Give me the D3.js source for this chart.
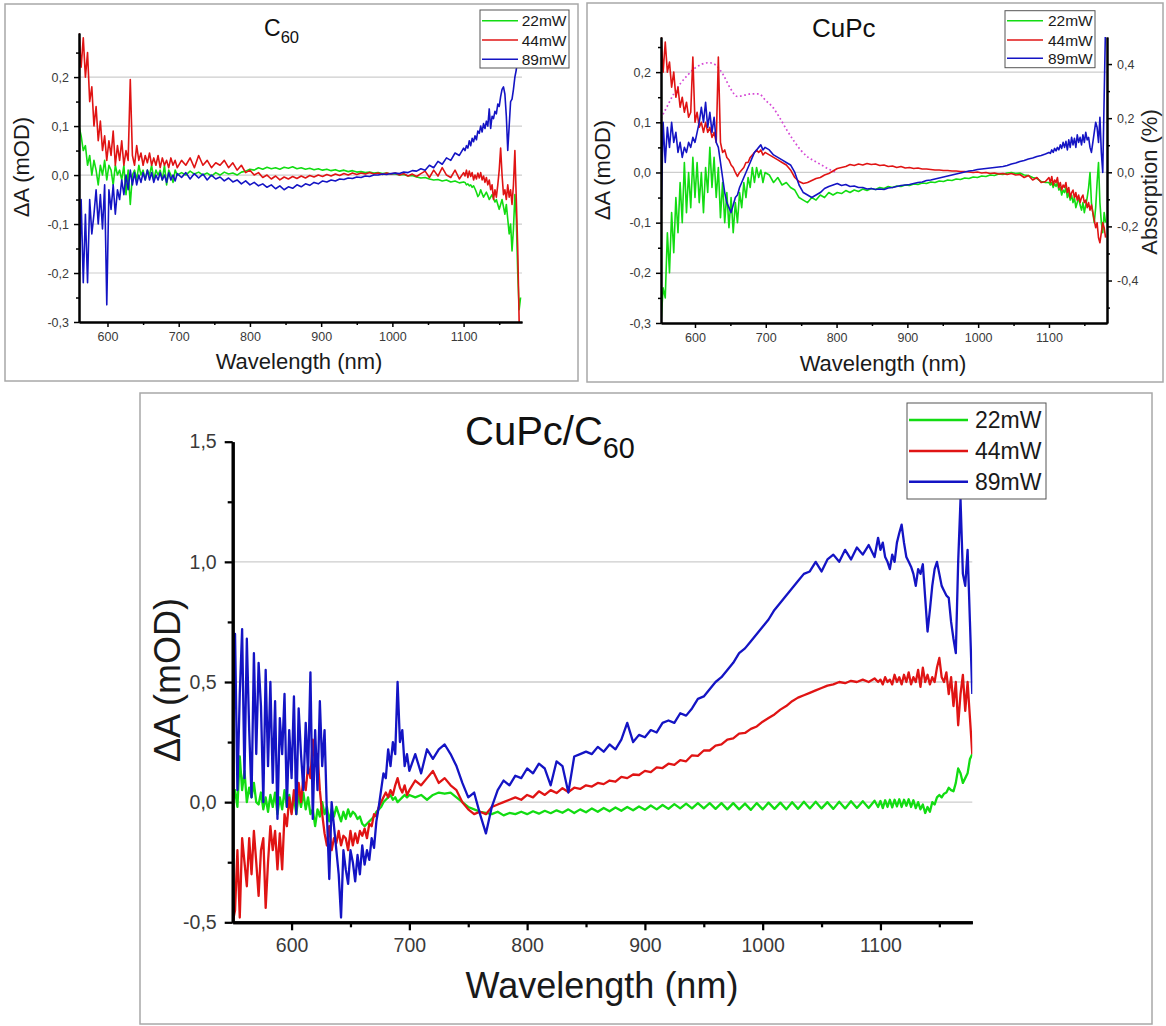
<!DOCTYPE html>
<html>
<head>
<meta charset="utf-8">
<script src="https://cdn.jsdelivr.net/npm/d3@7"></script>
<style>
  body { margin: 0; background: #fff; }
  svg { display: block; }
  text { font-family: "Liberation Sans", Arial, Helvetica, sans-serif; }
</style>
</head>
<body>
<svg id="fig" width="1166" height="1026"></svg>
<script>
// ---------- wavelength grids (nm) ----------
const wlC60  = [...d3.range(560, 700, 3), ...d3.range(704, 1100, 6), ...d3.range(1100, 1181, 2)];
const wlCuPc = [...d3.range(552, 700, 3), ...d3.range(705, 1100, 6), ...d3.range(1100, 1181, 2)];
const wlBlend = [...d3.range(550, 701, 2), ...d3.range(705, 1096, 5), ...d3.range(1098, 1179, 2)];

// ---------- C60 film, ΔA (mOD) ----------
const c60_22mW = [
  0.1, 0.08, 0.05, 0.06, 0.02, 0.04, 0.0, 0.03, 0.01, -0.02,
  0.02, 0.0, 0.03, -0.01, 0.02, 0.01, -0.02, 0.02, 0.0, 0.01,
  -0.01, 0.02, -0.04, 0.01, -0.06, 0.0, 0.01, -0.01, 0.02, 0.0,
  0.01, -0.01, 0.01, 0.0, 0.02, -0.01, 0.01, 0.0, 0.01, -0.01,
  0.02, -0.02, 0.01, 0.0, -0.015, 0.01, 0.0,
  0.005, 0.0, 0.008, 0.002, 0.006, 0.0, 0.004, -0.002, 0.005, 0.0,
  0.006, 0.002, 0.004, 0.0, 0.006, 0.008, 0.012, 0.01, 0.015, 0.012,
  0.016, 0.013, 0.015, 0.012, 0.016, 0.014, 0.017, 0.013, 0.015, 0.012,
  0.014, 0.011, 0.013, 0.01, 0.012, 0.009, 0.011, 0.008, 0.01, 0.007,
  0.009, 0.006, 0.007, 0.005, 0.006, 0.004, 0.005, 0.003, 0.004, 0.002,
  0.002, 0.0, 0.001, -0.002, -0.001, -0.004, -0.006, -0.005, -0.008, -0.01,
  -0.009, -0.012, -0.01, -0.014, -0.012, -0.016, -0.014,
  -0.015, -0.02, -0.018, -0.022, -0.02, -0.025, -0.022, -0.028, -0.035, -0.044,
  -0.04, -0.03, -0.038, -0.045, -0.04, -0.035, -0.042, -0.05, -0.045, -0.04,
  -0.048, -0.055, -0.05, -0.06, -0.07, -0.06, -0.05, -0.065, -0.08, -0.06,
  -0.09, -0.12, -0.1, -0.155, -0.11, -0.04, -0.09, -0.2, -0.275, -0.25,
  -0.05
];
const c60_44mW = [
  0.29, 0.22, 0.28, 0.2, 0.25, 0.15, 0.18, 0.1, 0.14, 0.07,
  0.11, 0.05, 0.08, 0.03, 0.07, 0.04, 0.09, 0.02, 0.06, 0.03,
  0.07, 0.02, 0.05, 0.03, 0.195, 0.04, 0.02, 0.06, 0.03, 0.045,
  0.02, 0.04, 0.025, 0.045, 0.02, 0.035, 0.02, 0.04, 0.015, 0.035,
  0.02, 0.03, 0.015, 0.035, 0.02, 0.03, 0.015,
  0.03, 0.02, 0.035, 0.015, 0.04, 0.02, 0.03, 0.015, 0.025, 0.02,
  0.03, 0.015, 0.025, 0.01, 0.02, 0.005, 0.01, 0.0, 0.005, -0.005,
  0.0, -0.008, -0.002, -0.01, -0.004, -0.008, -0.003, -0.007, -0.002, -0.006,
  -0.001, -0.004, 0.0, -0.003, 0.001, -0.002, 0.002, -0.001, 0.003, 0.0,
  0.004, 0.001, 0.004, 0.002, 0.005, 0.002, 0.004, 0.001, 0.004, 0.002,
  0.004, 0.0, 0.003, -0.002, 0.002, -0.003, 0.003, 0.008, -0.005, 0.01,
  -0.002, 0.015, 0.0, -0.005, 0.01, -0.008, 0.005,
  -0.002, 0.01, -0.005, 0.008, -0.003, 0.005, -0.01, 0.0, -0.008, 0.004,
  -0.006, 0.005, -0.01, -0.002, -0.015, -0.005, -0.02, -0.01, -0.03, -0.02,
  -0.05, -0.03, -0.045, -0.02, 0.01, 0.055, 0.0, -0.04, -0.03, -0.05,
  -0.02, -0.045, -0.03, -0.06, -0.02, 0.05, -0.05, -0.15, -0.3, -0.32,
  -0.32
];
const c60_89mW = [
  -0.25, -0.05, -0.22, -0.08, -0.22, -0.05, -0.12, -0.08, -0.03, -0.1,
  -0.04, -0.11, -0.02, -0.265, -0.03, -0.07, -0.02, -0.08, -0.03, -0.05,
  -0.01, -0.04, 0.0, -0.03, 0.01, -0.02, 0.005, -0.02, 0.0, -0.015,
  0.005, -0.01, 0.01, -0.01, 0.005, -0.015, 0.0, -0.01, 0.005, -0.01,
  0.0, -0.015, 0.005, -0.01, 0.0, -0.012, 0.003,
  -0.005, 0.005, -0.008, 0.003, -0.006, 0.002, -0.01, 0.0, -0.008, -0.004,
  -0.012, -0.006, -0.014, -0.01, -0.018, -0.012, -0.02, -0.015, -0.022, -0.018,
  -0.025, -0.02, -0.028, -0.022, -0.03, -0.024, -0.027, -0.02, -0.024, -0.018,
  -0.021, -0.015, -0.018, -0.012, -0.014, -0.01, -0.012, -0.008, -0.009, -0.006,
  -0.007, -0.004, -0.005, -0.002, -0.003, 0.0, 0.0, 0.002, 0.001, 0.003,
  0.004, 0.003, 0.006, 0.005, 0.009, 0.008, 0.013, 0.01, 0.02, 0.015,
  0.028, 0.022, 0.035, 0.03, 0.045, 0.04, 0.055,
  0.05, 0.06, 0.055, 0.07, 0.06, 0.075, 0.068, 0.08, 0.072, 0.09,
  0.085, 0.1, 0.088, 0.105, 0.095, 0.11, 0.1, 0.135, 0.095, 0.12,
  0.115, 0.13, 0.125, 0.145, 0.14, 0.16, 0.175, 0.18, 0.165, 0.12,
  0.05, 0.1, 0.15, 0.155, 0.175, 0.2, 0.215, 0.24, 0.32, null,
  null
];

// ---------- CuPc film, ΔA (mOD) ----------
const cupc_22mW = [
  -0.3, -0.23, -0.25, -0.12, -0.2, -0.08, -0.16, -0.05, -0.12, -0.02,
  -0.1, 0.02, -0.08, 0.0, -0.07, 0.03, -0.05, 0.02, -0.06, 0.0,
  -0.08, 0.01, -0.04, 0.05, -0.03, 0.03, -0.05, 0.01, -0.09, -0.02,
  -0.1, -0.04, -0.11, -0.05, -0.12, -0.06, -0.1, -0.04, -0.07, -0.02,
  -0.05, -0.01, -0.03, 0.01, -0.02, 0.01, -0.01, 0.005, -0.02, 0.0,
  -0.005, -0.02, -0.01, -0.025, -0.02, -0.03, -0.035, -0.05, -0.055, -0.06,
  -0.05, -0.055, -0.045, -0.05, -0.04, -0.045, -0.04, -0.042, -0.036, -0.04,
  -0.035, -0.038, -0.033, -0.036, -0.032, -0.034, -0.03, -0.032, -0.028, -0.03,
  -0.027, -0.028, -0.025, -0.026, -0.023, -0.024, -0.021, -0.022, -0.019, -0.02,
  -0.017, -0.018, -0.015, -0.016, -0.013, -0.014, -0.011, -0.012, -0.009, -0.01,
  -0.007, -0.008, -0.005, -0.006, -0.003, -0.004, -0.001, 0.0, -0.002, -0.001,
  -0.005, -0.006, -0.01, -0.012, -0.018, -0.02,
  -0.02, -0.025, -0.02, -0.03, -0.022, -0.028, -0.02, -0.035, -0.03, -0.045,
  -0.035, -0.04, -0.03, -0.05, -0.04, -0.055, -0.045, -0.06, -0.05, -0.07,
  -0.06, -0.05, -0.065, -0.075, -0.06, -0.08, -0.065, -0.05, -0.03, 0.0,
  -0.06, -0.08, -0.1, -0.07, -0.02, 0.02, -0.06, -0.1, -0.12, -0.08,
  -0.1
];
const cupc_44mW = [
  0.27, 0.2, 0.26, 0.2, 0.22, 0.17, 0.2, 0.15, 0.17, 0.13,
  0.15, 0.12, 0.14, 0.11, 0.12, 0.23, 0.1, 0.12, 0.09, 0.1,
  0.08, 0.1, 0.08, 0.09, 0.07, 0.08, 0.06, 0.23, 0.06, 0.04,
  0.045, 0.03, 0.025, 0.015, 0.01, 0.0, -0.008, 0.0, 0.005, 0.01,
  0.02, 0.02, 0.03, 0.035, 0.04, 0.045, 0.04, 0.045, 0.035, 0.04,
  0.035, 0.03, 0.025, 0.02, 0.015, 0.005, -0.01, -0.018, -0.022, -0.02,
  -0.016, -0.012, -0.01, -0.005, -0.002, 0.003, 0.008, 0.01, 0.012, 0.016,
  0.014, 0.017, 0.015, 0.018, 0.016, 0.017, 0.014, 0.015, 0.012, 0.013,
  0.01, 0.012, 0.009, 0.01, 0.008, 0.009, 0.007, 0.007, 0.006, 0.005,
  0.005, 0.004, 0.004, 0.003, 0.003, 0.002, 0.002, 0.001, 0.0, 0.001,
  -0.001, 0.0, -0.002, -0.001, -0.003, -0.002, -0.004, -0.002, -0.005, -0.004,
  -0.01, -0.006, -0.015, -0.01, -0.02, -0.018,
  -0.01, -0.02, -0.008, -0.025, -0.015, -0.02, -0.01, -0.03, -0.02, -0.035,
  -0.025, -0.03, -0.02, -0.04, -0.03, -0.05, -0.04, -0.035, -0.05, -0.04,
  -0.055, -0.045, -0.06, -0.05, -0.045, -0.06, -0.055, -0.07, -0.06, -0.075,
  -0.065, -0.08, -0.095, -0.11, -0.1, -0.13, -0.14, -0.12, -0.1, -0.11,
  -0.13
];
const cupc_89mW = [
  -0.1, 0.1, 0.02, 0.09, 0.05, 0.1, 0.06, 0.08, 0.04, 0.06,
  0.03, 0.05, 0.04, 0.06, 0.05, 0.07, 0.06, 0.08, 0.1, 0.13,
  0.1, 0.14, 0.09, 0.12, 0.08, 0.11, 0.06, 0.05, 0.02, -0.01,
  -0.04, -0.06, -0.07, -0.08, -0.065, -0.05, -0.045, -0.03, -0.02, -0.01,
  0.0, 0.01, 0.02, 0.03, 0.04, 0.045, 0.05, 0.055, 0.045, 0.05,
  0.045, 0.035, 0.03, 0.025, 0.02, 0.015, 0.0, -0.025, -0.04, -0.045,
  -0.05, -0.045, -0.04, -0.032, -0.028, -0.025, -0.022, -0.026, -0.024, -0.028,
  -0.027, -0.03, -0.03, -0.033, -0.032, -0.034, -0.033, -0.034, -0.031, -0.03,
  -0.028, -0.026, -0.025, -0.024, -0.022, -0.02, -0.019, -0.016, -0.015, -0.013,
  -0.011, -0.009, -0.007, -0.005, -0.003, -0.001, 0.001, 0.003, 0.004, 0.006,
  0.007, 0.008, 0.009, 0.01, 0.011, 0.012, 0.014, 0.017, 0.019, 0.022,
  0.024, 0.027, 0.029, 0.032, 0.034, 0.037,
  0.04, 0.038, 0.045, 0.04, 0.048, 0.043, 0.05, 0.045, 0.055, 0.048,
  0.06, 0.05, 0.062, 0.045, 0.065, 0.05, 0.07, 0.055, 0.068, 0.05,
  0.075, 0.06, 0.07, 0.055, 0.075, 0.06, 0.08, 0.065, 0.07, 0.05,
  0.04, 0.06, 0.08, 0.1, 0.09, 0.06, 0.11, 0.04, 0.0, 0.15,
  0.3
];
// steady-state absorption of CuPc (%), right axis
const absWl = [552, 560, 570, 580, 590, 600, 610, 620, 630, 640, 650, 660, 670,
               680, 690, 700, 710, 720, 730, 740, 750, 760, 770, 780, 790, 800];
const absCuPc = [0.2, 0.24, 0.29, 0.33, 0.36, 0.385, 0.4, 0.405, 0.395, 0.36, 0.31, 0.28, 0.285,
                 0.29, 0.29, 0.265, 0.24, 0.2, 0.155, 0.115, 0.08, 0.055, 0.04, 0.025, 0.01, 0.0];

// ---------- CuPc/C60 bilayer, ΔA (mOD) ----------
const blend_22mW = [
  0.0, 0.05, -0.02, 0.19, 0.05, 0.13, 0.0, 0.06, 0.02, 0.08,
  0.0, -0.01, 0.04, -0.03, 0.02, -0.04, 0.03, -0.02, 0.04, -0.05,
  0.02, -0.03, 0.05, -0.02, 0.03, -0.04, 0.02, -0.05, 0.03, -0.02,
  0.04, -0.03, 0.02, -0.05, -0.03, -0.1, -0.03, -0.06, 0.0, -0.05,
  -0.02, -0.08, -0.03, -0.06, -0.02, -0.05, -0.08, -0.04, -0.07, -0.03,
  -0.06, -0.04, -0.05, -0.07, -0.06, -0.09, -0.1, -0.09, -0.08, -0.07,
  -0.06, -0.04, -0.03, -0.02, 0.0, 0.01, 0.02, 0.03, 0.01, 0.02,
  0.0, 0.01, 0.02, 0.03, 0.02, 0.03,
  0.02, 0.03, 0.01, 0.03, 0.04, 0.035, 0.04, 0.02, 0.0, -0.02,
  -0.03, -0.04, -0.045, -0.05, -0.04, -0.055, -0.045, -0.05, -0.04, -0.05,
  -0.038, -0.048, -0.036, -0.046, -0.034, -0.044, -0.03, -0.045, -0.03, -0.042,
  -0.026, -0.04, -0.024, -0.038, -0.022, -0.036, -0.02, -0.034, -0.018, -0.032,
  -0.014, -0.03, -0.012, -0.028, -0.008, -0.026, -0.006, -0.026, -0.004, -0.026,
  -0.004, -0.028, -0.004, -0.03, -0.004, -0.03, -0.006, -0.032, -0.004, -0.03,
  -0.002, -0.028, -0.002, -0.03, 0.0, -0.028, 0.002, -0.026, 0.002, -0.026,
  0.0, -0.028, 0.002, -0.026, 0.004, -0.024, 0.004, -0.024, 0.006,
  -0.02, 0.005, -0.025, 0.008, -0.02, 0.01, -0.022, 0.01, -0.018, 0.012,
  -0.02, 0.01, -0.015, 0.012, -0.02, 0.008, -0.025, 0.0, -0.03, -0.01,
  -0.045, -0.02, -0.04, 0.0, -0.01, 0.02, 0.03, 0.02, 0.035, 0.04,
  0.06, 0.05, 0.045, 0.08, 0.14, 0.12, 0.08, 0.1, 0.12, 0.18,
  0.2
];
const blend_44mW = [
  -0.5, -0.45, -0.2, -0.48, -0.15, -0.25, -0.35, -0.15, -0.3, -0.12,
  -0.25, -0.39, -0.2, -0.15, -0.44, -0.25, -0.1, -0.2, -0.12, -0.28,
  -0.13, -0.28, -0.05, -0.1, 0.02, -0.05, 0.05, -0.02, 0.08, 0.0,
  0.1, 0.05, 0.15, 0.1, 0.26, 0.15, 0.2, 0.05, -0.05, -0.13,
  -0.18, -0.1, -0.2, -0.15, -0.17, -0.12, -0.18, -0.14, -0.15, -0.2,
  -0.12, -0.18, -0.13, -0.17, -0.12, -0.14, -0.11, -0.15, -0.09, -0.1,
  -0.05, -0.06, -0.02, 0.0, 0.02, 0.04, 0.02, 0.05, 0.03, 0.07,
  0.1, 0.06, 0.04, 0.07, 0.03, 0.05,
  0.09, 0.07, 0.1, 0.13, 0.08, 0.1, 0.07, 0.05, 0.0, -0.03,
  -0.05, -0.04, -0.05, -0.02, -0.01, 0.0, 0.01, 0.02, 0.01, 0.03,
  0.02, 0.045, 0.03, 0.05, 0.038, 0.058, 0.042, 0.06, 0.055, 0.07,
  0.065, 0.08, 0.075, 0.09, 0.085, 0.105, 0.1, 0.115, 0.113, 0.13,
  0.125, 0.145, 0.142, 0.16, 0.155, 0.175, 0.17, 0.195, 0.193, 0.215,
  0.215, 0.235, 0.24, 0.26, 0.265, 0.285, 0.288, 0.305, 0.315, 0.335,
  0.35, 0.365, 0.385, 0.4, 0.42, 0.435, 0.445, 0.455, 0.465, 0.475,
  0.485, 0.49, 0.5, 0.495, 0.505, 0.5, 0.51, 0.5, 0.515,
  0.5, 0.51, 0.49, 0.52, 0.5, 0.51, 0.49, 0.53, 0.5, 0.52,
  0.49, 0.53, 0.5, 0.54, 0.49, 0.52, 0.5, 0.55, 0.48, 0.56,
  0.5, 0.53, 0.49, 0.52, 0.5, 0.56, 0.6, 0.52, 0.5, 0.54,
  0.45, 0.52, 0.4, 0.5, 0.32, 0.45, 0.53, 0.38, 0.5, 0.35,
  0.2
];
const blend_89mW = [
  0.3, 0.7, 0.05, 0.45, 0.72, 0.1, 0.68, 0.3, 0.02, 0.62,
  0.2, 0.58, 0.4, 0.0, 0.55, 0.15, 0.5, 0.08, 0.42, -0.07,
  0.35, 0.2, 0.45, -0.02, 0.3, 0.1, 0.44, -0.05, 0.39, 0.2,
  0.05, 0.33, 0.12, 0.54, -0.07, 0.3, 0.05, 0.42, 0.15, 0.3,
  -0.05, -0.32, 0.0, -0.1, -0.2, -0.3, -0.48, -0.2, -0.28, -0.34,
  -0.2, -0.25, -0.33, -0.22, -0.3, -0.18, -0.26, -0.2, -0.24, -0.15,
  -0.19, -0.08, -0.02, 0.05, 0.12, 0.1, 0.22, 0.15, 0.25, 0.2,
  0.5, 0.25, 0.3, 0.15, 0.2, 0.13,
  0.2, 0.12, 0.22, 0.18, 0.22, 0.24, 0.2, 0.15, 0.08, 0.02,
  0.04, -0.05, -0.13, -0.02, 0.05, 0.09, 0.07, 0.11, 0.1, 0.14,
  0.12, 0.16, 0.14, 0.07, 0.17, 0.15, 0.04, 0.19, 0.2, 0.21,
  0.2, 0.23, 0.21, 0.24, 0.22, 0.26, 0.33, 0.25, 0.28, 0.27,
  0.3, 0.29, 0.33, 0.34, 0.33, 0.37, 0.36, 0.39, 0.43, 0.44,
  0.47, 0.5, 0.52, 0.55, 0.58, 0.62, 0.64, 0.67, 0.7, 0.73,
  0.76, 0.8, 0.83, 0.86, 0.89, 0.92, 0.95, 0.96, 1.0, 0.96,
  1.01, 1.03, 1.0, 1.05, 1.01, 1.06, 1.03, 1.07, 1.02,
  1.1, 1.05, 1.08, 1.02, 1.0, 0.97, 1.03, 1.0, 1.08, 1.12,
  1.155, 1.08, 1.02, 1.0, 0.98, 0.95, 0.9, 0.97, 0.95, 0.99,
  0.85, 0.71, 0.8, 0.9, 0.97, 1.0, 0.95, 0.9, 0.88, 0.86,
  0.85, 0.75, 0.68, 0.62, 1.0, 1.26, 0.95, 0.9, 1.05, 0.75,
  0.45
];

const powers = ["22mW", "44mW", "89mW"];
const colors = ["#12dc12", "#e01414", "#1414c4"];

// ---------- drawing ----------
const svg = d3.select("#fig");
const defs = svg.append("defs");
const commaFmt = p => d => d3.format(p)(d).replace(".", ",").replace("\u2212", "-");

function drawPanel(c) {
  const g = svg.append("g");
  g.append("rect")
    .attr("x", c.frame[0]).attr("y", c.frame[1])
    .attr("width", c.frame[2]).attr("height", c.frame[3])
    .attr("fill", "#fff").attr("stroke", "#a8a8a8").attr("stroke-width", 1.5);

  const x = d3.scaleLinear().domain(c.xDomain).range([c.left, c.right]);
  const y = d3.scaleLinear().domain(c.yDomain).range([c.bottom, c.top]);

  // horizontal grid
  g.append("g").selectAll("line").data(c.grid).join("line")
    .attr("x1", c.left).attr("x2", c.right)
    .attr("y1", d => y(d)).attr("y2", d => y(d))
    .attr("stroke", "#cdcdcd").attr("stroke-width", c.gridW);

  defs.append("clipPath").attr("id", "clip-" + c.key)
    .append("rect").attr("x", c.left).attr("y", c.top)
    .attr("width", c.right - c.left).attr("height", c.bottom - c.top);
  const plot = g.append("g").attr("clip-path", `url(#clip-${c.key})`);

  const line = d3.line().defined(d => d[1] != null).x(d => x(d[0])).y(d => y(d[1]));

  if (c.extra) {
    const yR = d3.scaleLinear().domain(c.extra.domain).range([c.bottom, c.top]);
    const lineR = d3.line().x(d => x(d[0])).y(d => yR(d[1])).curve(d3.curveMonotoneX);
    plot.append("path")
      .datum(c.extra.wl.map((w, i) => [w, c.extra.values[i]]))
      .attr("d", lineR).attr("fill", "none")
      .attr("stroke", "#d548d5").attr("stroke-width", 1.7)
      .attr("stroke-dasharray", "1.7,2.6");
    c.yRight = yR;
  }

  c.series.forEach((vals, i) => {
    plot.append("path")
      .datum(c.wl.map((w, k) => [w, vals[k]]))
      .attr("d", line).attr("fill", "none")
      .attr("stroke", colors[i]).attr("stroke-width", c.lineW)
      .attr("stroke-linejoin", "round");
  });

  const styleAxis = (sel, w) => {
    sel.select(".domain").attr("stroke", "#000").attr("stroke-width", w);
    sel.selectAll(".tick line").attr("stroke", "#000").attr("stroke-width", w * 0.75);
    sel.selectAll(".tick text").attr("fill", "#3a3a3a")
      .style("font-size", c.tickFont + "px");
  };

  // minor ticks first, then the major axes on top
  g.append("g").attr("transform", `translate(0,${c.bottom})`)
    .call(d3.axisBottom(x).tickValues(c.xMinor).tickFormat("").tickSize(c.minorLen).tickSizeOuter(0))
    .call(s => styleAxis(s, c.axisW));
  g.append("g").attr("transform", `translate(${c.left},0)`)
    .call(d3.axisLeft(y).tickValues(c.yMinor).tickFormat("").tickSize(c.minorLen).tickSizeOuter(0))
    .call(s => styleAxis(s, c.axisW));
  g.append("g").attr("transform", `translate(0,${c.bottom})`)
    .call(d3.axisBottom(x).tickValues(c.xTicks).tickFormat(d3.format("d"))
      .tickSize(c.tickLen).tickSizeOuter(0).tickPadding(c.tickPad))
    .call(s => styleAxis(s, c.axisW));
  g.append("g").attr("transform", `translate(${c.left},0)`)
    .call(d3.axisLeft(y).tickValues(c.yTicks).tickFormat(commaFmt(c.yFmt))
      .tickSize(c.tickLen).tickSizeOuter(0).tickPadding(c.tickPad))
    .call(s => styleAxis(s, c.axisW));

  if (c.extra) {
    g.append("g").attr("transform", `translate(${c.right},0)`)
      .call(d3.axisRight(c.yRight).tickValues(c.extra.minor).tickFormat("").tickSize(c.minorLen).tickSizeOuter(0))
      .call(s => styleAxis(s, c.axisW));
    g.append("g").attr("transform", `translate(${c.right},0)`)
      .call(d3.axisRight(c.yRight).tickValues(c.extra.ticks).tickFormat(commaFmt(".1f"))
        .tickSize(c.tickLen).tickSizeOuter(0).tickPadding(c.tickPad))
      .call(s => styleAxis(s, c.axisW));
    g.append("text")
      .attr("transform", `translate(${c.extra.labelPos[0]},${c.extra.labelPos[1]}) rotate(-90)`)
      .attr("text-anchor", "middle").attr("fill", "#222")
      .style("font-size", c.labelFont + "px").text("Absorption (%)");
  }

  // axis titles
  g.append("text").attr("x", c.xLabelPos[0]).attr("y", c.xLabelPos[1])
    .attr("text-anchor", "middle").attr("fill", "#1a1a1a")
    .style("font-size", c.labelFont + "px").text("Wavelength (nm)");
  g.append("text")
    .attr("transform", `translate(${c.yLabelPos[0]},${c.yLabelPos[1]}) rotate(-90)`)
    .attr("text-anchor", "middle").attr("fill", "#1a1a1a")
    .style("font-size", c.labelFont + "px").text("\u0394A (mOD)");

  // panel title with subscript
  const t = g.append("text").attr("x", c.titlePos[0]).attr("y", c.titlePos[1])
    .attr("fill", "#111").style("font-size", c.titleFont + "px");
  t.append("tspan").text(c.title[0]);
  if (c.title[1]) {
    t.append("tspan").attr("dy", c.titleFont * 0.32)
      .style("font-size", (c.titleFont * 0.72) + "px").text(c.title[1]);
  }

  // legend
  const L = c.legend;
  const lg = g.append("g");
  lg.append("rect").attr("x", L.box[0]).attr("y", L.box[1])
    .attr("width", L.box[2]).attr("height", L.box[3])
    .attr("fill", "#fff").attr("stroke", "#555").attr("stroke-width", 1);
  powers.forEach((p, i) => {
    const ry = L.rowY[i];
    lg.append("line").attr("x1", L.line[0]).attr("x2", L.line[1])
      .attr("y1", ry).attr("y2", ry)
      .attr("stroke", colors[i]).attr("stroke-width", L.lineW);
    lg.append("text").attr("x", L.textX).attr("y", ry + L.font * 0.36)
      .attr("text-anchor", L.anchor).attr("fill", "#1a1a1a")
      .style("font-size", L.font + "px").text(p);
  });
}

// C60 film
drawPanel({
  key: "c60", frame: [5, 4, 573, 377],
  left: 79, right: 522, top: 33, bottom: 322,
  xDomain: [560, 1182], yDomain: [-0.3, 0.29],
  xTicks: d3.range(600, 1101, 100), xMinor: d3.range(650, 1151, 100),
  yTicks: d3.range(-0.3, 0.21, 0.1), yMinor: d3.range(-0.25, 0.26, 0.1), yFmt: ".1f",
  grid: [-0.2, -0.1, 0, 0.1, 0.2], gridW: 1.2,
  wl: wlC60, series: [c60_22mW, c60_44mW, c60_89mW], lineW: 1.6,
  tickLen: 5, minorLen: 3, tickPad: 5, tickFont: 12.5, axisW: 2,
  labelFont: 22, xLabelPos: [299, 369], yLabelPos: [29, 167],
  title: ["C", "60"], titleFont: 23, titlePos: [264, 36],
  legend: { box: [480, 10, 89, 58], line: [482, 518], rowY: [20.7, 40, 59.3],
            textX: 566.5, anchor: "end", font: 15.5, lineW: 1.6 }
});

// CuPc film, with absorption on the right axis
drawPanel({
  key: "cupc", frame: [587, 3, 576, 379],
  left: 661, right: 1107, top: 37, bottom: 323,
  xDomain: [552, 1182], yDomain: [-0.3, 0.27],
  xTicks: d3.range(600, 1101, 100), xMinor: d3.range(650, 1151, 100),
  yTicks: d3.range(-0.3, 0.21, 0.1), yMinor: d3.range(-0.25, 0.26, 0.1), yFmt: ".1f",
  grid: [-0.2, -0.1, 0, 0.1, 0.2], gridW: 1.2,
  wl: wlCuPc, series: [cupc_22mW, cupc_44mW, cupc_89mW], lineW: 1.6,
  tickLen: 5, minorLen: 3, tickPad: 5, tickFont: 12.5, axisW: 2,
  labelFont: 22, xLabelPos: [883, 371], yLabelPos: [610, 170],
  title: ["CuPc"], titleFont: 26, titlePos: [812, 37],
  extra: { wl: absWl, values: absCuPc, domain: [-0.557, 0.5],
           ticks: [-0.4, -0.2, 0, 0.2, 0.4], minor: [-0.5, -0.3, -0.1, 0.1, 0.3],
           labelPos: [1157, 182] },
  legend: { box: [1005, 10.7, 90, 57], line: [1007, 1043], rowY: [20.7, 40, 58.3],
            textX: 1092.7, anchor: "end", font: 15.5, lineW: 1.6 }
});

// CuPc/C60 bilayer
drawPanel({
  key: "blend", frame: [140, 393, 1012, 631],
  left: 232.7, right: 972.3, top: 441.7, bottom: 922.3,
  xDomain: [550, 1178], yDomain: [-0.5, 1.5],
  xTicks: d3.range(600, 1101, 100), xMinor: d3.range(650, 1151, 100),
  yTicks: [-0.5, 0, 0.5, 1.0, 1.5], yMinor: [-0.25, 0.25, 0.75, 1.25], yFmt: ".1f",
  grid: [0, 0.5, 1.0], gridW: 1.3,
  wl: wlBlend, series: [blend_22mW, blend_44mW, blend_89mW], lineW: 2.3,
  tickLen: 8, minorLen: 5, tickPad: 8, tickFont: 19.5, axisW: 3,
  labelFont: 36, xLabelPos: [602, 998], yLabelPos: [180, 680],
  title: ["CuPc/C", "60"], titleFont: 40, titlePos: [465, 445],
  legend: { box: [907, 403, 139, 96], line: [909, 968], rowY: [420, 451, 481.7],
            textX: 975, anchor: "start", font: 23, lineW: 2.5 }
});
</script>
</body>
</html>
